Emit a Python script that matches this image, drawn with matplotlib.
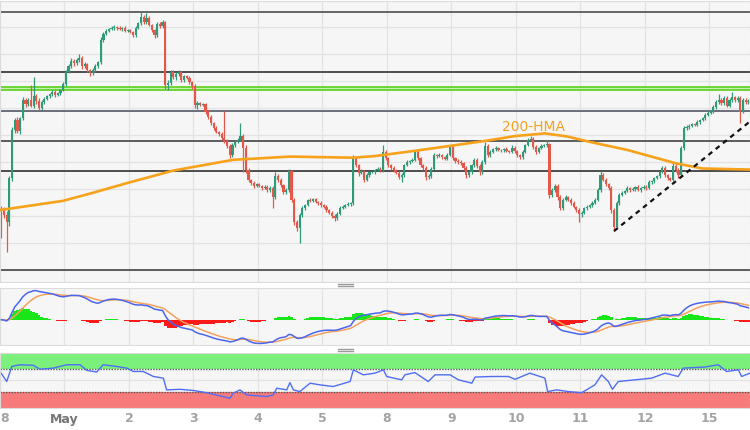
import matplotlib
matplotlib.use("Agg")
import matplotlib.pyplot as plt
from matplotlib.lines import Line2D
import numpy as np
import pandas as pd

# USD/JPY hourly candles, hour 0 = Apr 28 00:00 (weekend hours skipped)
first_open = 134.15
closes = [
    # Apr 28
    134.11, 134.02, 133.89, 134.70, 135.59, 135.78, 135.57, 135.81, 136.15, 136.07, 136.15, 136.04,
    136.22, 136.13, 136.00, 136.11, 136.17, 136.22, 136.26, 136.30, 136.24, 136.28, 136.33, 136.44,
    # May 1
    136.67, 136.78, 136.87, 136.83, 136.89, 136.93, 136.78, 136.81, 136.70, 136.65, 136.70, 136.78,
    136.85, 137.26, 137.37, 137.43, 137.46, 137.48, 137.50, 137.48, 137.46, 137.48, 137.43, 137.44,
    # May 2
    137.41, 137.35, 137.48, 137.57, 137.69, 137.59, 137.67, 137.54, 137.44, 137.35, 137.56, 137.52,
    137.59, 136.43, 136.46, 136.67, 136.57, 136.63, 136.67, 136.52, 136.59, 136.56, 136.48, 136.41,
    # May 3
    136.06, 136.09, 136.06, 136.07, 135.93, 135.83, 135.72, 135.63, 135.56, 135.52, 135.44, 135.39,
    135.30, 135.13, 135.31, 135.37, 135.41, 135.48, 135.26, 134.85, 134.67, 134.61, 134.56, 134.59,
    # May 4
    134.56, 134.52, 134.54, 134.48, 134.52, 134.35, 134.74, 134.67, 134.57, 134.44, 134.48, 134.83,
    134.30, 133.89, 133.78, 134.02, 134.15, 134.20, 134.30, 134.28, 134.31, 134.26, 134.24, 134.20,
    # May 5
    134.17, 134.11, 134.06, 134.00, 133.96, 134.04, 134.15, 134.17, 134.20, 134.22, 134.24, 135.07,
    134.94, 134.80, 134.83, 134.67, 134.76, 134.81, 134.81, 134.85, 134.87, 134.85, 135.19, 135.07,
    # May 8
    134.94, 134.89, 134.85, 134.80, 134.72, 134.76, 134.94, 135.00, 135.02, 135.04, 135.19, 135.07,
    134.94, 134.89, 134.72, 134.74, 134.87, 135.13, 135.11, 135.13, 135.09, 135.06, 135.13, 135.28,
    # May 9
    135.07, 135.02, 135.00, 134.98, 134.89, 134.76, 134.81, 134.94, 135.04, 134.93, 134.81, 135.00,
    135.30, 135.13, 135.19, 135.24, 135.26, 135.22, 135.22, 135.24, 135.20, 135.19, 135.26, 135.20,
    # May 10
    135.13, 135.09, 135.19, 135.31, 135.41, 135.43, 135.28, 135.19, 135.26, 135.30, 135.31, 135.33,
    134.39, 134.48, 134.56, 134.35, 134.15, 134.30, 134.35, 134.30, 134.24, 134.17, 134.11, 134.04,
    # May 11
    134.06, 134.15, 134.17, 134.20, 134.24, 134.30, 134.48, 134.76, 134.67, 134.59, 134.52, 134.11,
    133.80, 134.24, 134.39, 134.43, 134.46, 134.52, 134.48, 134.50, 134.54, 134.48, 134.52, 134.54,
    # May 12
    134.52, 134.63, 134.65, 134.70, 134.74, 134.81, 134.89, 134.76, 134.70, 134.67, 134.93, 134.85,
    134.76, 135.26, 135.63, 135.65, 135.67, 135.70, 135.69, 135.74, 135.78, 135.81, 135.87, 135.91,
    # May 15
    135.94, 136.02, 136.11, 136.15, 136.09, 136.19, 136.04, 136.15, 136.20, 136.15, 136.19, 135.93,
    136.15, 136.11, 136.13,
]

# wick length beyond the body, in pips (0.01)
wick_hi = [
    4, 6, 8, 5, 6, 4, 5, 3, 6, 4, 3, 28, 35, 4, 5, 3, 4, 3, 2, 4, 3, 2, 3, 4,
    3, 4, 5, 3, 4, 7, 3, 4, 2, 3, 4, 3, 2, 5, 3, 3, 2, 3, 4, 2, 3, 2, 3, 2,
    3, 2, 4, 3, 9, 4, 9, 3, 2, 3, 4, 3, 4, 3, 5, 4, 3, 4, 3, 2, 3, 2, 3, 2,
    3, 4, 3, 3, 2, 3, 4, 3, 3, 2, 3, 50, 4, 3, 5, 3, 3, 24, 4, 6, 3, 2, 3, 3,
    3, 2, 3, 3, 3, 4, 7, 3, 3, 2, 3, 4, 3, 4, 3, 4, 3, 3, 2, 3, 2, 3, 2, 3,
    3, 3, 2, 3, 3, 4, 3, 3, 2, 3, 2, 6, 5, 3, 4, 3, 3, 2, 3, 2, 3, 3, 12, 3,
    3, 2, 3, 2, 3, 4, 3, 3, 2, 4, 3, 3, 2, 3, 3, 4, 3, 3, 2, 3, 2, 3, 3, 3,
    3, 2, 3, 3, 2, 3, 3, 3, 4, 3, 3, 3, 7, 3, 3, 2, 3, 2, 3, 2, 3, 2, 5, 3,
    3, 2, 3, 3, 4, 5, 3, 3, 2, 3, 3, 8, 3, 4, 3, 3, 3, 4, 3, 2, 3, 3, 2, 3,
    3, 2, 3, 2, 3, 3, 4, 7, 3, 3, 3, 3, 3, 4, 3, 3, 2, 3, 2, 3, 2, 3, 2, 3,
    3, 3, 2, 3, 2, 3, 3, 3, 2, 3, 7, 3, 3, 3, 4, 3, 3, 3, 2, 3, 2, 3, 3, 3,
    3, 4, 3, 11, 3, 3, 4, 3, 10, 3, 3, 3, 4, 3, 3,
]
wick_lo = [
    51, 5, 56, 8, 6, 5, 4, 6, 3, 5, 4, 3, 4, 6, 4, 3, 3, 2, 4, 3, 3, 2, 3, 2,
    4, 3, 3, 5, 4, 3, 6, 3, 4, 5, 3, 3, 4, 3, 4, 2, 3, 2, 3, 3, 2, 3, 2, 3,
    3, 4, 3, 2, 3, 4, 3, 3, 4, 5, 3, 4, 3, 8, 10, 4, 3, 5, 3, 3, 4, 3, 4, 5,
    6, 8, 3, 3, 4, 3, 3, 4, 3, 4, 3, 3, 4, 5, 3, 3, 2, 3, 45, 5, 4, 3, 4, 3,
    3, 3, 2, 4, 3, 20, 3, 4, 3, 3, 4, 3, 5, 6, 5, 28, 3, 3, 2, 3, 3, 2, 3, 3,
    3, 4, 3, 4, 5, 3, 3, 2, 3, 2, 3, 4, 4, 5, 3, 4, 3, 3, 2, 3, 2, 3, 3, 4,
    3, 3, 4, 3, 4, 9, 3, 2, 3, 2, 3, 3, 4, 3, 5, 4, 3, 2, 3, 2, 3, 2, 3, 2,
    3, 4, 3, 3, 4, 6, 3, 3, 3, 4, 5, 3, 3, 4, 3, 2, 3, 2, 3, 3, 2, 3, 2, 3,
    3, 3, 4, 3, 2, 3, 3, 4, 3, 2, 3, 3, 5, 4, 3, 5, 4, 3, 3, 3, 4, 3, 4, 15,
    5, 3, 3, 2, 3, 2, 3, 3, 3, 4, 4, 6, 8, 3, 3, 2, 3, 2, 3, 2, 3, 2, 3, 2,
    3, 2, 3, 3, 2, 3, 2, 3, 4, 3, 3, 3, 5, 3, 4, 3, 3, 2, 3, 2, 3, 2, 3, 2,
    3, 3, 4, 3, 3, 4, 3, 3, 3, 4, 3, 21, 3, 3, 3,
]

# horizontal levels
levels = [137.78, 136.66, 135.95, 135.39, 134.83, 133.00]
level_colors = ["#666666", "#4d4d4d", "#6a6e7a", "#5c5c5c", "#4d4d4d", "#5c5c5c"]
green_zone = [136.33, 136.38]

# 200-HMA
hma_hours = [0, 23.4, 34.6, 47.3, 64.4, 86.7, 107.9, 131.4, 139.6, 156.3, 180.5,
             191.7, 202.8, 211.4, 218.8, 233.7, 251.2, 261.3, 279.1]
hma_vals = [134.11, 134.28, 134.43, 134.61, 134.84, 135.04, 135.10, 135.08, 135.11, 135.22, 135.39,
            135.48, 135.53, 135.47, 135.38, 135.22, 134.98, 134.88, 134.86]

# support trend line
trend_hours = [228.5, 279.1]
trend_vals = [133.72, 135.75]

# RSI(14)
rsi_hours = [0, 2.5, 4.4, 7.4, 12.4, 14.9, 19.8, 24.8, 29.8, 32.3, 36.0, 38.4, 43.4, 47.2, 49.6,
             53.3, 57.1, 60.8, 62.0, 67.0, 71.9, 76.9, 85.6, 86.8, 89.3, 91.8, 99.3, 101.7, 103.0,
             106.7, 107.9, 109.2, 111.6, 115.4, 119.1, 124.0, 130.3, 131.5, 135.2, 139.6, 142.7,
             143.9, 149.5, 150.7, 154.4, 159.4, 161.9, 167.5, 170.6, 175.6, 176.8, 183.0, 189.2,
             191.7, 197.2, 202.8, 203.8, 207.2, 211.5, 216.5, 221.4, 223.9, 226.4, 227.9, 230.1,
             236.3, 242.5, 247.5, 252.4, 254.3, 262.4, 267.3, 270.4, 274.8, 276.0, 279.1]
rsi_vals = [66, 48, 75, 78, 77, 70, 72, 78, 78, 68, 65, 78, 75, 72, 66,
            66, 57, 54, 33, 34, 32, 28, 18, 27, 33, 24, 21, 24, 36,
            33, 46, 33, 30, 45, 42, 39, 48, 69, 60, 63, 69,
            57, 51, 60, 64, 48, 60, 60, 51, 45, 56, 57, 57,
            52, 63, 54, 30, 33, 30, 28, 42, 60, 48, 34, 48,
            51, 54, 63, 57, 72, 74, 78, 66, 69, 57, 63]

day_labels = ["8", "May", "2", "3", "4", "5", "8", "9", "10", "11", "12", "15"]

UP = "#2f9a7a"
DOWN = "#e2584a"
BG = "#f6f6f6"
GRID = "#e3e3e3"

c = np.array(closes)
o = np.r_[first_open, c[:-1]]
hi = np.maximum(o, c) + np.array(wick_hi) / 100
lo = np.minimum(o, c) - np.array(wick_lo) / 100
x = np.arange(len(c)) + 0.5
colors = np.where(c >= o, UP, DOWN)

# MACD (12, 26, 9) from the closes
s = pd.Series(c)
macd = s.ewm(span=12, adjust=False).mean() - s.ewm(span=26, adjust=False).mean()
signal = macd.ewm(span=9, adjust=False).mean()
hist = macd - signal

W, H = 750, 430
fig = plt.figure(figsize=(7.5, 4.3), dpi=100, facecolor="white")
ax_p = fig.add_axes([0, 1 - 282 / H, 1, 281 / H])
ax_m = fig.add_axes([0, 1 - 345 / H, 1, 57 / H])
ax_r = fig.add_axes([0, 1 - 408.3 / H, 1, 55.8 / H])

px_per_hour = 2.687
xmax = W / px_per_hour
days = [24 * k for k in range(len(day_labels))]
for ax in (ax_p, ax_m, ax_r):
    ax.set_facecolor(BG)
    ax.set_xlim(0, xmax)
    for d in days:
        ax.axvline(d, color=GRID, lw=0.9, zorder=0)
    for sp in ax.spines.values():
        sp.set_color("#dcdcdc")
        sp.set_linewidth(0.8)
    ax.tick_params(left=False, labelleft=False, bottom=False, labelbottom=False)

# --- price panel ---
ax_p.set_ylim(138 - 282 / 54, 138 - 1 / 54)
for g in np.arange(133.0, 138.0, 0.5):
    ax_p.axhline(g, color=GRID, lw=0.9, zorder=0)
for lv, lc in zip(levels, level_colors):
    ax_p.axhline(lv, color=lc, lw=1.4, zorder=1.5)
ax_p.axhspan(green_zone[0], green_zone[1], color="#c9f1ad", lw=0, zorder=1.4)
for g in green_zone:
    ax_p.axhline(g, color="#63d22a", lw=1.3, zorder=1.5)

ax_p.vlines(x, lo, hi, colors=colors, lw=0.9, zorder=2)
ax_p.bar(x, np.maximum(np.abs(c - o), 0.006), bottom=np.minimum(o, c), width=0.8,
         color=colors, linewidth=0, zorder=2.1)

ax_p.plot(hma_hours, hma_vals, color="#f7a21b", lw=1.9, zorder=3)
ax_p.text(186.8, 135.65, "200-HMA", color="#f7a21b", fontsize=10, va="center", ha="left")
ax_p.plot(trend_hours, trend_vals, color="#111111", lw=1.6, ls=(0, (2.2, 2.0)), zorder=4)

# --- MACD panel ---
hist_colors = np.where(hist >= 0, "#19e619", "#ff1a1a")
ax_m.bar(x, hist, width=1.0, color=hist_colors, linewidth=0, zorder=1)
ax_m.plot(x, signal, color="#f4a15e", lw=1.1, zorder=2)
ax_m.plot(x, macd, color="#4a66ee", lw=1.1, zorder=3)
lo_m = min(macd.min(), signal.min(), hist.min())
hi_m = max(macd.max(), signal.max(), hist.max())
ax_m.set_ylim(lo_m - 0.03 * (hi_m - lo_m), hi_m + 0.05 * (hi_m - lo_m))

# --- RSI panel ---
ax_r.set_ylim(0, 100)
ax_r.axhspan(70, 100, color="#7bf07b", lw=0, zorder=0.5)
ax_r.axhspan(0, 30, color="#f77b7b", lw=0, zorder=0.5)
ax_r.axhline(50, color=GRID, lw=0.9, zorder=0.6)
ax_r.axhline(70, color="#555555", lw=1.0, ls=(0, (1, 1)), zorder=1)
ax_r.axhline(30, color="#555555", lw=1.0, ls=(0, (1, 1)), zorder=1)
ax_r.plot(rsi_hours, rsi_vals, color="#4f6ef5", lw=1.0, zorder=2)

# day labels under the RSI panel
for d, lab in zip(days, day_labels):
    xf = d * px_per_hour / W
    ha = "left" if d == 0 else "center"
    if lab == "May":
        fig.text(xf, 1 - 419 / H, lab, fontsize=9, color="#767676", fontweight="bold",
                 ha=ha, va="center")
    else:
        fig.text(xf, 1 - 419 / H, lab, fontsize=9, color="#a3a3a3", fontweight="semibold",
                 ha=ha, va="center")

# panel drag handles
for yy in (284.3, 286.3, 348.5, 350.5):
    fig.add_artist(Line2D([338 / W, 353 / W], [1 - yy / H, 1 - yy / H],
                          transform=fig.transFigure, color="#9a9a9a", lw=1.0))

fig.savefig("out.png", dpi=100, facecolor="white")
